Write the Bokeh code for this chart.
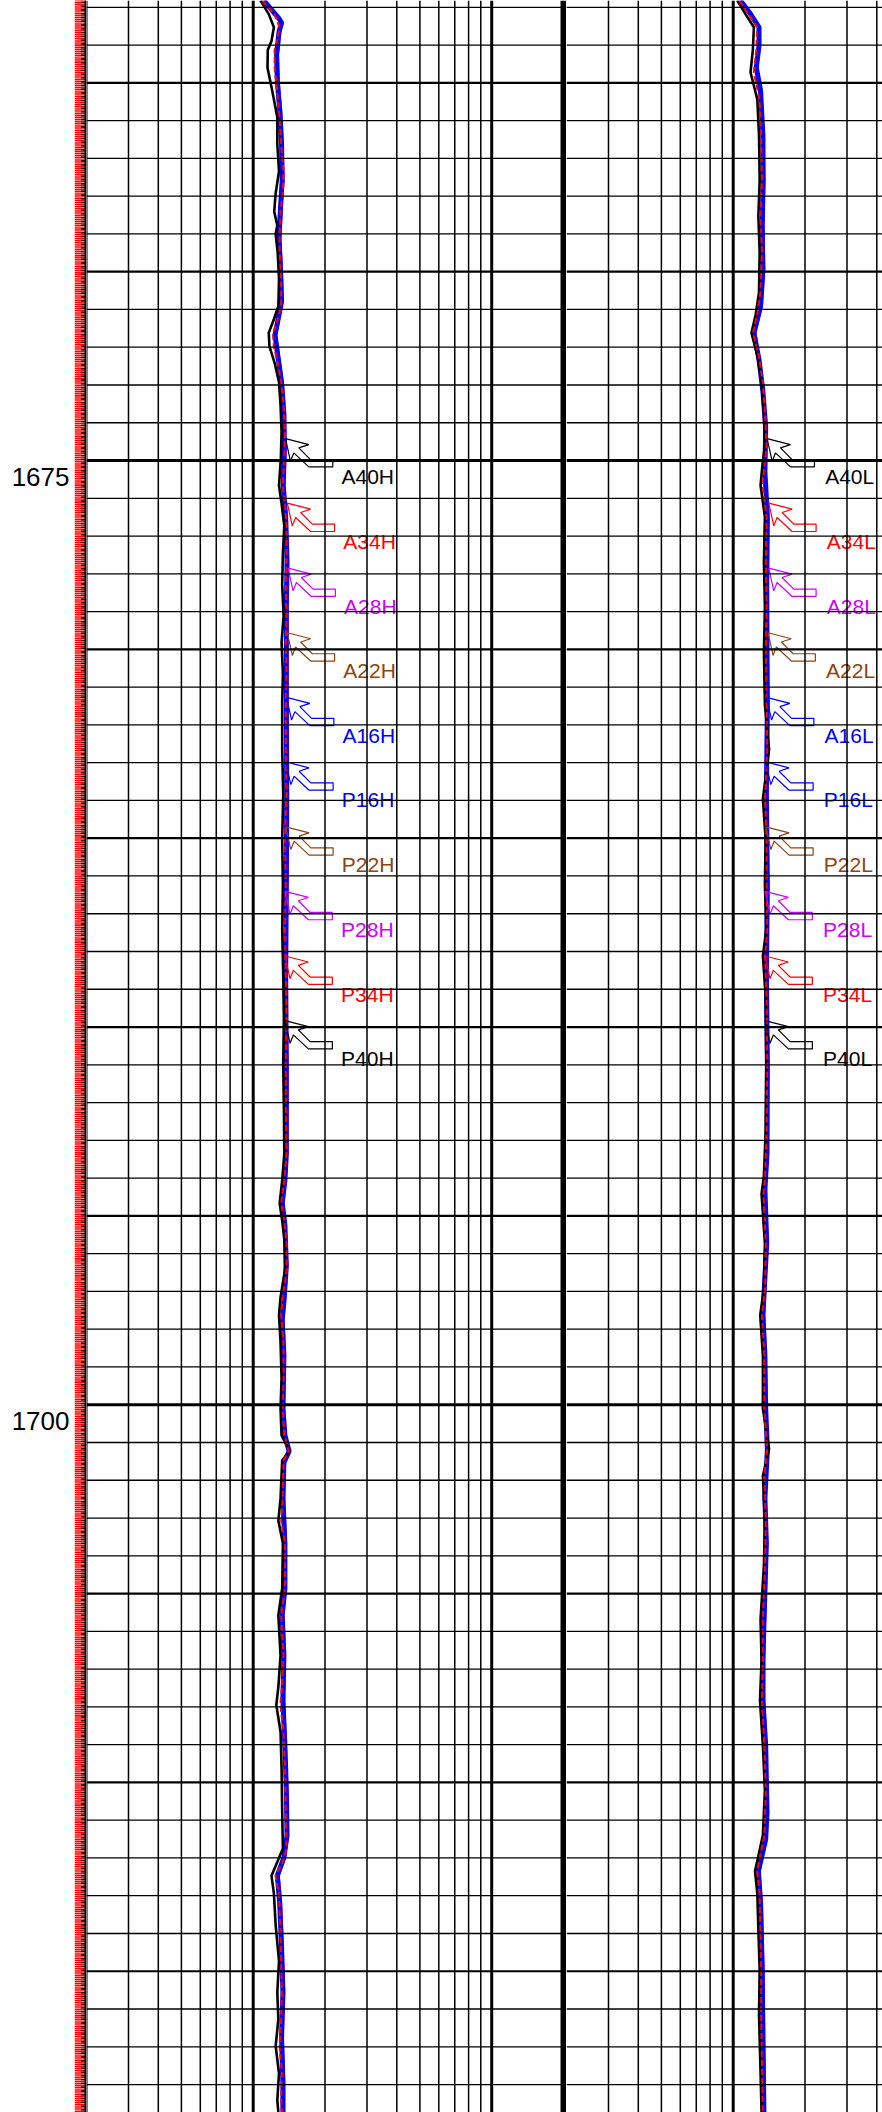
from bokeh.plotting import figure
from bokeh.models import Range1d, Span, ColumnDataSource
from bokeh.layouts import row
from bokeh.core.properties import value
from bokeh.embed import file_html
from bokeh.resources import INLINE
import math

# ---------------- data ----------------
DEPTH_LABELS = [1675, 1700]

ARROW_NAMES = ["A40", "A34", "A28", "A22", "A16", "P16", "P22", "P28", "P34", "P40"]
ARROW_COLORS = ["black", "red", "#CC00FF", "#8B4513", "blue", "blue", "#8B4513", "#CC00FF", "red", "black"]
ARROW_DEPTH = [1674.42, 1676.13, 1677.85, 1679.56, 1681.27, 1682.98, 1684.70, 1686.41, 1688.12, 1689.83]
L_ARROW_VAL = [13.66, 13.9, 14.0, 13.9, 13.8, 13.7, 13.7, 13.6, 13.6, 13.6]
R_ARROW_VAL = [13.88, 14.1, 14.1, 14.0, 13.8, 13.7, 13.7, 13.6, 13.6, 13.6]

# left track (H) curves
L_BLUE_DEPTH = [1662.82, 1663.30, 1663.41, 1663.65, 1664.25, 1664.96, 1665.79, 1666.62, 1667.58, 1668.29,
                1669.12, 1669.95, 1670.79, 1671.68, 1672.33, 1672.93, 1673.76, 1674.71, 1675.66, 1676.49,
                1677.68, 1678.87, 1680.06, 1681.37, 1683.84, 1686.22, 1688.59, 1690.97, 1693.35, 1694.06,
                1694.66, 1695.25, 1696.32, 1697.27, 1697.75, 1698.70, 1700.10, 1700.81, 1701.23, 1701.53,
                1702.48, 1703.67, 1704.86, 1705.57, 1706.64, 1707.83, 1709.02, 1710.21, 1711.40, 1711.99,
                1712.47, 1713.18, 1714.37, 1715.56, 1716.75, 1717.94, 1718.74]
L_BLUE_VAL = [11.08, 12.83, 13.15, 12.83, 12.54, 12.62, 12.95, 13.15, 13.23, 13.02,
              12.83, 13.02, 13.15, 12.34, 12.75, 13.15, 13.45, 13.50, 13.36, 13.68,
              13.86, 13.77, 13.77, 13.77, 13.82, 13.77, 13.68, 13.77, 13.77, 13.58,
              13.23, 13.58, 13.77, 13.45, 13.23, 13.45, 13.32, 13.58, 14.14, 13.45,
              13.32, 13.58, 13.58, 13.23, 13.45, 13.32, 13.58, 13.77, 13.86, 13.45,
              12.62, 12.91, 13.15, 13.32, 13.15, 13.32, 13.32]
L_MAG_VAL = [11.2, 12.9, 13.3, 13.0, 12.7, 12.8, 13.1, 13.3, 13.4, 13.2,
             13.0, 13.2, 13.3, 12.5, 12.9, 13.3, 13.6, 13.7, 13.5, 13.8,
             14.0, 13.9, 13.9, 13.9, 13.9, 13.9, 13.8, 13.9, 13.9, 13.7,
             13.4, 13.7, 13.9, 13.6, 13.4, 13.6, 13.5, 13.7, 14.2, 13.6,
             13.5, 13.7, 13.7, 13.4, 13.6, 13.5, 13.7, 13.9, 14.0, 13.6,
             12.8, 13.1, 13.3, 13.5, 13.3, 13.5, 13.5]
L_BLACK_DEPTH = [1662.82, 1663.18, 1663.53, 1663.89, 1664.13, 1664.60, 1665.20, 1665.91, 1666.62, 1667.34,
                 1667.93, 1668.41, 1668.77, 1669.00, 1669.48, 1670.19, 1670.91, 1671.26, 1671.62, 1671.98,
                 1672.45, 1672.93, 1673.52, 1674.23, 1674.95, 1675.66, 1676.14, 1676.73, 1677.45, 1678.28,
                 1679.11, 1679.82, 1680.66, 1681.37, 1682.65, 1683.84, 1685.03, 1686.22, 1687.41, 1688.59,
                 1689.78, 1690.97, 1692.16, 1693.35, 1694.06, 1694.66, 1695.13, 1695.73, 1696.44, 1697.16,
                 1697.63, 1698.34, 1699.30, 1700.10, 1700.81, 1701.23, 1701.47, 1702.48, 1703.07, 1703.67,
                 1704.86, 1705.57, 1706.64, 1707.47, 1707.95, 1708.66, 1709.61, 1710.80, 1711.75, 1712.11,
                 1712.47, 1712.94, 1713.77, 1714.73, 1715.56, 1716.27, 1716.98, 1717.70, 1718.41, 1718.74]
L_BLACK_VAL = [10.73, 11.62, 12.21, 11.93, 11.51, 11.48, 12.01, 12.62, 12.62, 12.83,
               12.42, 12.25, 12.62, 12.42, 12.66, 12.83, 12.75, 12.21, 11.62, 11.70,
               12.34, 12.83, 13.02, 13.15, 13.06, 12.83, 13.15, 13.50, 13.32, 13.23,
               13.41, 13.15, 13.32, 13.23, 13.23, 13.36, 13.23, 13.32, 13.23, 13.36,
               13.45, 13.36, 13.45, 13.50, 13.23, 12.91, 13.23, 13.58, 13.58, 13.02,
               12.83, 13.02, 13.15, 13.02, 13.15, 14.23, 13.23, 13.02, 12.75, 13.32,
               13.23, 12.75, 13.02, 12.75, 12.50, 13.02, 13.15, 13.23, 13.32, 12.62,
               11.93, 12.21, 12.42, 12.83, 12.62, 12.75, 12.42, 12.83, 12.62, 12.75]
L_RED_VAL = [10.9, 12.3, 12.9, 12.6, 12.3, 12.3, 12.6, 12.9, 13.1, 13.4,
             13.3, 13.0, 13.0, 12.9, 12.9, 13.1, 13.1, 12.7, 12.1, 12.2,
             12.7, 13.1, 13.4, 13.6, 13.5, 13.3, 13.6, 13.8, 13.8, 13.7,
             13.8, 13.7, 13.8, 13.7, 13.7, 13.8, 13.6, 13.7, 13.6, 13.7,
             13.8, 13.7, 13.7, 13.8, 13.5, 13.1, 13.5, 13.8, 13.8, 13.3,
             13.1, 13.4, 13.4, 13.3, 13.5, 14.1, 13.4, 13.3, 13.1, 13.6,
             13.6, 13.1, 13.4, 13.2, 13.0, 13.4, 13.6, 13.7, 13.8, 13.3,
             12.4, 12.8, 13.0, 13.1, 13.2, 13.1, 12.9, 13.2, 13.1, 13.2]

# right track (L) curves
R_BLUE_DEPTH = [1662.82, 1663.18, 1663.53, 1664.01, 1664.60, 1665.20, 1666.39, 1667.58, 1668.77, 1669.95,
                1670.91, 1671.62, 1672.33, 1673.17, 1674.12, 1675.30, 1676.49, 1678.28, 1680.06, 1681.46,
                1683.84, 1686.22, 1688.59, 1690.97, 1693.35, 1694.30, 1695.73, 1697.63, 1698.70, 1700.10,
                1701.17, 1702.48, 1703.67, 1705.81, 1706.76, 1707.83, 1709.02, 1710.80, 1711.51, 1712.35,
                1713.18, 1714.96, 1716.75, 1718.74]
R_BLUE_VAL = [10.73, 11.82, 12.83, 12.83, 12.50, 13.02, 13.32, 13.36, 13.23, 13.32,
              13.02, 12.21, 12.83, 13.32, 13.68, 13.58, 13.91, 13.82, 13.86, 13.91,
              13.77, 13.91, 13.77, 13.91, 13.86, 13.58, 13.82, 13.32, 13.58, 13.68,
              13.91, 13.58, 13.77, 13.45, 13.32, 13.32, 13.68, 13.86, 13.68, 12.75,
              13.02, 13.23, 13.32, 13.45]
R_MAG_VAL = [10.8, 11.9, 12.9, 12.9, 12.6, 13.1, 13.4, 13.5, 13.4, 13.5,
             13.2, 12.4, 12.9, 13.4, 13.8, 13.7, 14.0, 13.9, 14.0, 14.0,
             13.9, 14.0, 13.9, 14.0, 13.9, 13.7, 13.9, 13.5, 13.7, 13.8,
             14.0, 13.7, 13.9, 13.6, 13.5, 13.5, 13.8, 13.9, 13.8, 12.9,
             13.2, 13.4, 13.5, 13.6]
R_BLACK_DEPTH = [1662.82, 1663.18, 1663.53, 1664.13, 1664.72, 1665.44, 1666.39, 1667.58, 1668.53, 1669.48,
                 1670.55, 1671.14, 1671.62, 1672.21, 1672.93, 1673.76, 1674.59, 1675.18, 1675.66, 1676.49,
                 1677.68, 1678.87, 1680.06, 1681.46, 1682.65, 1683.96, 1685.03, 1686.22, 1687.41, 1688.12,
                 1689.19, 1690.97, 1692.76, 1693.94, 1694.42, 1695.73, 1696.92, 1697.63, 1698.70, 1700.10,
                 1701.17, 1701.88, 1703.07, 1704.26, 1705.69, 1706.76, 1707.83, 1709.02, 1710.21, 1711.40,
                 1712.35, 1712.94, 1713.89, 1714.96, 1716.15, 1717.34, 1718.74]
R_BLACK_VAL = [10.40, 11.26, 12.21, 12.09, 11.82, 12.62, 12.83, 12.91, 12.75, 12.91,
               12.83, 12.42, 11.93, 12.62, 13.15, 13.45, 13.58, 13.23, 13.02, 13.58,
               13.45, 13.58, 13.45, 13.58, 14.14, 13.32, 13.68, 13.58, 13.77, 13.32,
               13.68, 13.77, 13.68, 13.45, 13.15, 13.58, 13.45, 12.98, 13.32, 13.32,
               14.14, 13.32, 13.58, 13.45, 13.02, 13.15, 12.95, 13.32, 13.58, 13.32,
               12.34, 12.62, 12.75, 12.91, 12.83, 12.98, 13.15]
R_RED_VAL = [10.6, 11.6, 12.6, 12.5, 12.2, 12.9, 13.1, 13.2, 13.0, 13.2,
             13.0, 12.6, 12.1, 12.8, 13.3, 13.6, 13.8, 13.5, 13.3, 13.8,
             13.7, 13.8, 13.7, 13.8, 13.9, 13.6, 13.8, 13.8, 13.9, 13.6,
             13.8, 13.9, 13.8, 13.6, 13.4, 13.7, 13.6, 13.2, 13.5, 13.5,
             13.9, 13.5, 13.7, 13.6, 13.3, 13.3, 13.2, 13.5, 13.7, 13.5,
             12.6, 12.9, 13.0, 13.1, 13.1, 13.2, 13.3]

# log-grid values of the resistivity tracks
GRID_MINOR = [3, 4, 5, 6, 7, 8, 9, 20, 30, 40, 50, 60, 70, 80, 90]
GRID_MAJOR = [10, 100]

# ---------------- layout ----------------
H = 2112
DEPTH_TOP = 1662.82
DEPTH_BOTTOM = 1718.74
PX_PER_DECADE = 238.5
LEFT_W = 480
RIGHT_W = 316
LABEL_W = 74
STRIP_W = 12
FONT = value("Liberation Sans")
MAGENTA = "#CC00FF"

# arrow outline in screen pixels relative to its tip (x right, y down)
ARROW_DX = [0, 23.3, 13.3, 25, 47.3, 47.3, 23.3, 8.3, 5, 0]
ARROW_DY = [0, 6, 9.3, 21, 21, 28.3, 28.3, 14.3, 22.7, 0]


def base_fig(width, **kw):
    p = figure(width=width, height=H, y_range=Range1d(DEPTH_BOTTOM, DEPTH_TOP),
               output_backend="svg", toolbar_location=None, min_border=0,
               x_axis_location=None, y_axis_location=None, **kw)
    p.grid.visible = False
    p.outline_line_color = None
    p.background_fill_color = "white"
    p.border_fill_color = "white"
    return p


def hgrid(p):
    for d in range(int(math.ceil(DEPTH_TOP)), int(DEPTH_BOTTOM) + 1):
        w = 3 if d % 25 == 0 else (2.2 if d % 5 == 0 else 1.3)
        p.add_layout(Span(location=d, dimension="width", line_color="black", line_width=w))


def track(width, arrow_vals, suffix, text_dx, blue_d, blue_v, mag_v, black_d, black_v, red_v, is_left):
    x_end = 2 * 10 ** (width / PX_PER_DECADE)
    p = base_fig(width, x_axis_type="log", x_range=Range1d(2, x_end))
    px_per_m = H / (DEPTH_BOTTOM - DEPTH_TOP)
    for v in GRID_MINOR:
        if v < x_end:
            p.add_layout(Span(location=v, dimension="height", line_color="black", line_width=1.5))
    for v in GRID_MAJOR:
        if v < x_end:
            p.add_layout(Span(location=v, dimension="height", line_color="black", line_width=3))
    if is_left:
        p.add_layout(Span(location=2, dimension="height", line_color="black", line_width=2))
        p.add_layout(Span(location=200, dimension="height", line_color="black", line_width=6))
    hgrid(p)

    p.line(mag_v, blue_d, line_color=MAGENTA, line_width=2)
    p.line(blue_v, blue_d, line_color="blue", line_width=5)
    p.line(black_v, black_d, line_color="black", line_width=2.6)
    p.line(red_v, black_d, line_color="red", line_width=2, line_dash="6 3")

    xs, ys = [], []
    for v, d in zip(arrow_vals, ARROW_DEPTH):
        xs.append([v * 10 ** (dx / PX_PER_DECADE) for dx in ARROW_DX])
        ys.append([d + dy / px_per_m for dy in ARROW_DY])
    p.patches(xs, ys, fill_color=None, line_color=ARROW_COLORS, line_width=1.2)
    src = ColumnDataSource(dict(x=arrow_vals, y=ARROW_DEPTH,
                                t=[n + suffix for n in ARROW_NAMES], c=ARROW_COLORS))
    p.text(x="x", y="y", text="t", text_color="c", source=src, text_font=FONT,
           text_font_size="21px", x_offset=text_dx, y_offset=38,
           text_baseline="alphabetic", text_align="left")
    return p


# depth label column
lab = base_fig(LABEL_W, x_range=Range1d(0, LABEL_W))
lab.text(x=[LABEL_W - 5] * len(DEPTH_LABELS), y=DEPTH_LABELS, text=[str(d) for d in DEPTH_LABELS],
         text_font=FONT, text_font_size="26px", text_color="black",
         text_align="right", text_baseline="alphabetic", y_offset=16)

# depth tick strip
strip = base_fig(STRIP_W, x_range=Range1d(0, STRIP_W))
n_red = int((DEPTH_BOTTOM - DEPTH_TOP) / 0.05) + 1
red_ticks = [round(DEPTH_TOP + 0.05 * i, 3) for i in range(n_red)]
strip.segment(x0=0, x1=STRIP_W, y0=red_ticks, y1=red_ticks, line_color="#FF0000", line_width=1.4)
blk_ticks = red_ticks[1::2]
strip.segment(x0=6.5, x1=STRIP_W, y0=blk_ticks, y1=blk_ticks, line_color="black", line_width=1.4)
strip.add_layout(Span(location=STRIP_W - 1, dimension="height", line_color="black", line_width=2))

left = track(LEFT_W, L_ARROW_VAL, "H", 56, L_BLUE_DEPTH, L_BLUE_VAL, L_MAG_VAL,
             L_BLACK_DEPTH, L_BLACK_VAL, L_RED_VAL, True)
right = track(RIGHT_W, R_ARROW_VAL, "L", 58, R_BLUE_DEPTH, R_BLUE_VAL, R_MAG_VAL,
              R_BLACK_DEPTH, R_BLACK_VAL, R_RED_VAL, False)

layout = row(lab, strip, left, right, spacing=0)
open("out.html", "w").write(file_html(layout, INLINE))
